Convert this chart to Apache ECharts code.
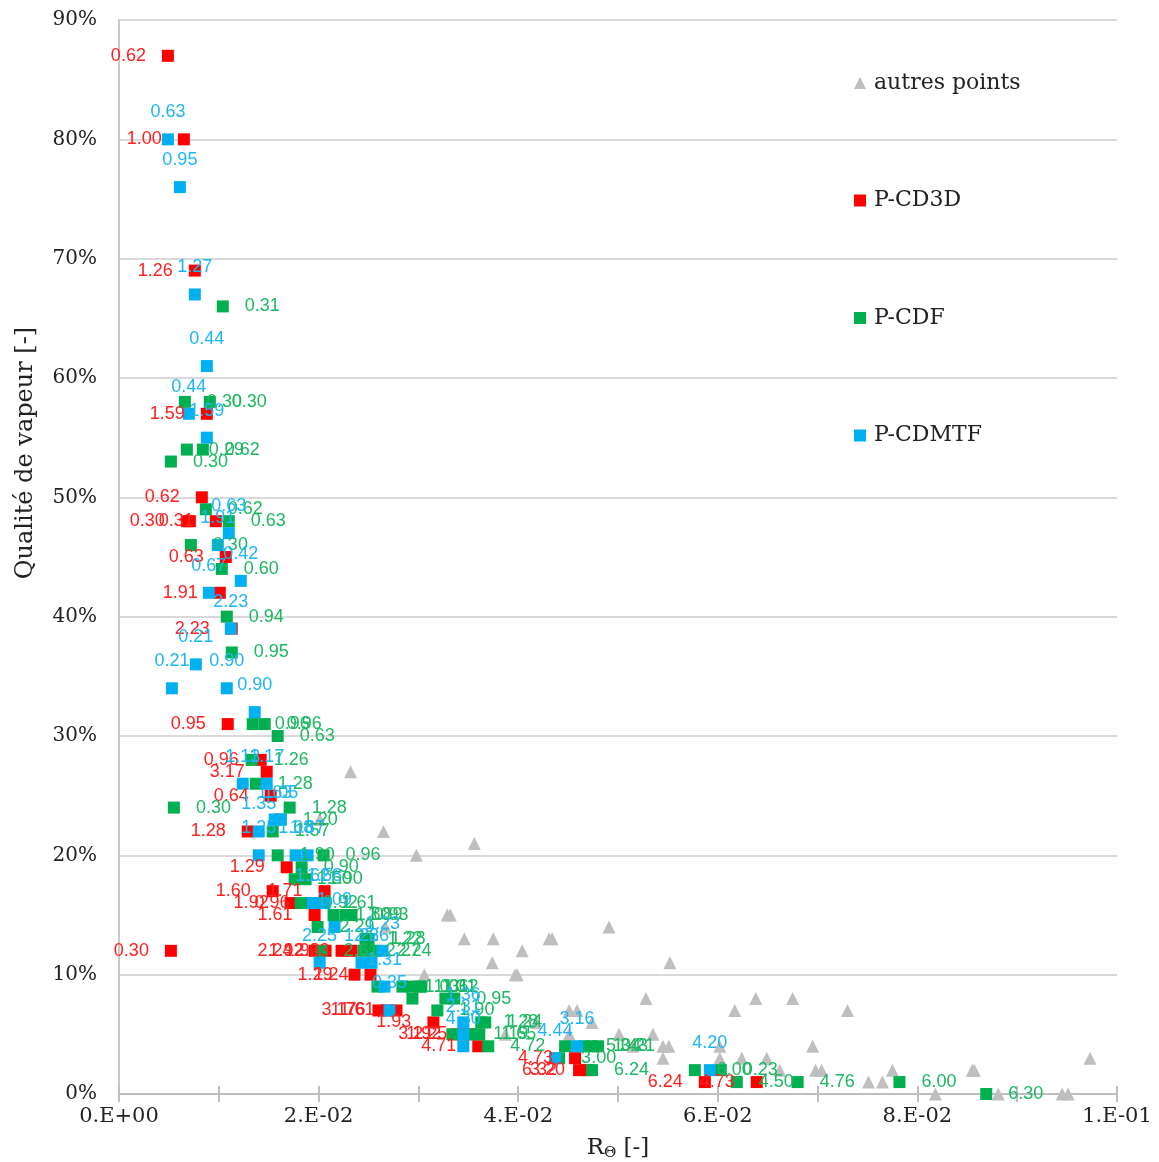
<!DOCTYPE html>
<html>
<head>
<meta charset="utf-8">
<style>html,body{margin:0;padding:0;background:#fff}#c{width:1159px;height:1162px}</style>
<script src="https://cdn.jsdelivr.net/npm/echarts@6/dist/echarts.min.js"></script>
</head>
<body>
<div id="c"></div>
<script>
const otherX=[.0232,.0201,.0265,.0298,.0356,.0267,.0329,.0332,.0346,.0375,.0431,.0434,.0374,.0404,.0397,.0399,.0306,.0491,.0552,.0528,.0617,.0638,.0675,.0730,.0451,.0459,.0474,.0451,.0501,.0535,.0545,.0551,.0545,.0515,.0418,.0387,.0695,.0602,.0602,.0624,.0649,.0662,.0698,.0704,.0751,.0765,.0775,.0855,.0857,.0818,.0881,.0945,.0951,.0973];
const otherY=[27,23,22,20,21,14,15,15,13,13,13,13,11,12,10,10,10,14,11,8,7,8,8,7,7,7,6,5,5,5,4,4,3,4,6,5,4,4,3,3,3,2,2,2,1,1,2,2,2,0,0,0,0,3];

const cd3dX=[.0049,.0065,.0076,.0088,.0083,.0068,.0071,.0097,.0107,.0101,.0113,.0109,.0142,.0148,.0152,.0129,.0168,.0154,.0206,.0172,.0193,.0196,.0052,.0196,.0207,.0223,.0233,.0236,.0252,.0260,.0269,.0278,.0315,.0337,.0345,.0351,.0360,.0457,.0461,.0469,.0587,.0639];
const cd3dY=[87,80,69,57,50,48,48,48,45,42,39,31,28,27,25,22,19,17,17,16,16,15,12,12,12,12,12,10,10,7,7,7,6,5,5,5,4,3,2,2,1,1];
const cd3dLabels=["0.62","1.00","1.26","1.59","0.62","0.30","","0.31","0.63","1.91","2.23","0.95","0.96","3.17","0.64","1.28","1.29","1.60","1.71","1.92","0.96","1.61","0.30","2.24","1.92","1.96","2.23","1.29","1.24","3.17","1.76","1.61","1.93","3.21","1.92","1.25","4.71","4.73","6.32","3.20","6.24","4.73"];

const cdfX=[.0104,.0066,.0091,.0068,.0084,.0052,.0087,.0110,.0072,.0103,.0108,.0113,.0134,.0146,.0159,.0133,.0137,.0171,.0055,.0162,.0154,.0159,.0205,.0183,.0176,.0187,.0182,.0201,.0215,.0227,.0233,.0199,.0247,.0250,.0203,.0245,.0256,.0259,.0284,.0293,.0301,.0303,.0294,.0327,.0336,.0319,.0363,.0367,.0334,.0353,.0361,.0370,.0447,.0466,.0473,.0480,.0441,.0474,.0577,.0603,.0619,.0680,.0782,.0869];
const cdfY=[66,58,58,54,54,53,49,48,46,44,40,37,31,31,30,28,26,24,24,23,22,20,20,19,18,18,16,16,15,15,15,14,13,13,12,12,12,9,9,9,9,9,8,8,8,7,6,6,5,5,5,4,4,4,4,4,3,2,2,2,1,1,1,0];
const cdfLabels=["0.31","0.30","0.30","0.29","0.62","0.30","0.62","0.63","0.30","0.60","0.94","0.95","0.96","0.96","0.63","1.26","1.28","1.28","0.30","1.20","1.57","1.90","0.96","0.90","1.50","1.90","0.92","1.61","1.80","1.89","0.93","2.29","1.22","1.28","2.61","2.27","2.24","","1.03","1.01","1.31","1.62","","","0.95","1.90","1.28","1.24","","1.19","1.65","4.72","","5.04","1.43","3.21","3.00","6.24","6.00","0.23","4.50","4.76","6.00","6.30"];

const cdmtfX=[.0049,.0061,.0076,.0088,.0070,.0088,.0110,.0099,.0122,.0090,.0112,.0077,.0053,.0108,.0136,.0124,.0148,.0156,.0162,.0140,.0140,.0177,.0189,.0194,.0206,.0216,.0264,.0201,.0243,.0253,.0266,.0271,.0345,.0345,.0345,.0437,.0459,.0592];
const cdmtfY=[80,76,67,61,57,55,47,46,43,42,39,36,34,34,32,26,26,23,23,22,20,20,20,16,16,14,12,11,11,11,9,7,6,5,4,3,4,2];
const cdmtfLabels=["0.63","0.95","1.27","0.44","0.44","1.59","0.63","1.91","0.42","0.67","2.23","0.21","0.21","0.90","0.90","1.13","1.17","1.63","1.05","1.35","1.25","1.08","1.87","1.62","1.58","1.09","1.23","2.25","1.26","2.26","1.31","0.35","1.36","2.31","4.30","4.44","3.16","4.20"];

const yTickLabels=["0%","10%","20%","30%","40%","50%","60%","70%","80%","90%"];
const xTickLabels=["0.E+00","","2.E-02","","4.E-02","","6.E-02","","8.E-02","","1.E-01"];
const names=["autres points","P-CD3D","P-CDF","P-CDMTF"];
const markerColors=["#bfbfbf","#ff0000","#00b050","#00b0f0"];
const labelColors=["#bfbfbf","#ff2020","#1db862","#1db6f2"];

const serif='"DejaVu Serif"';
function series(i,xs,ys,labels,pos,dist,symbol,size){
  return {
    name:names[i],type:'scatter',symbol:symbol,symbolSize:size,
    xAxisIndex:0,yAxisIndex:0,
    itemStyle:{color:markerColors[i],opacity:1,borderRadius:1},
    label:{show:!!labels,position:pos,distance:dist,color:labelColors[i],
      fontFamily:'"Liberation Sans"',fontSize:18,
      formatter:p=>p.data[2]||''},
    labelLayout:{hideOverlap:false},
    emphasis:{disabled:true},
    data:xs.map((x,k)=>[x,ys[k],labels?labels[k]:''])
  };
}
const chart=echarts.init(document.getElementById('c'),null,{renderer:'canvas'});
chart.setOption({
  animation:false,backgroundColor:'#fff',
  grid:{left:119,right:42,top:20,bottom:68,outerBoundsMode:'none'},
  legend:{show:true,orient:'vertical',left:849,top:66,itemWidth:12,itemHeight:12,itemGap:93.5,
    data:[{name:names[0],icon:'triangle'},{name:names[1],icon:'rect'},{name:names[2],icon:'rect'},{name:names[3],icon:'rect'}],
    textStyle:{fontFamily:serif,fontSize:22,color:'#222',lineHeight:24,padding:[0,0,0,3]}},
  xAxis:[{type:'value',min:0,max:0.1,interval:0.01,position:'bottom',
      name:'{r|R}{s|Θ}{r| [-]}',nameLocation:'middle',nameGap:42,
      nameTextStyle:{rich:{r:{fontFamily:serif,fontSize:23,color:'#222'},s:{fontFamily:serif,fontSize:15,color:'#222',padding:[10,0,0,0]}}},
      splitLine:{show:false},
      axisLine:{show:true,onZero:false,lineStyle:{color:'#bfbfbf',width:2}},
      axisTick:{show:true,length:8,lineStyle:{color:'#bfbfbf',width:2}},
      axisLabel:{fontFamily:serif,fontSize:21,color:'#222',margin:12,hideOverlap:false,showMinLabel:true,showMaxLabel:true,
        formatter:(v)=>xTickLabels[Math.round(v*100)]}},
    {type:'value',min:0,max:0.1,interval:0.01,position:'bottom',
      splitLine:{show:false},axisLine:{show:false},axisLabel:{show:false},
      axisTick:{show:true,inside:true,length:8,lineStyle:{color:'#bfbfbf',width:2}}}],
  yAxis:{type:'value',min:0,max:90,interval:10,
    name:'Qualité de vapeur [-]',nameLocation:'middle',nameGap:81,
    nameTextStyle:{fontFamily:serif,fontSize:24,color:'#222',padding:[0,0,0,208]},
    axisLine:{show:true,lineStyle:{color:'#c8c8c8',width:2}},
    axisTick:{show:false},
    splitLine:{show:true,lineStyle:{color:'#d9d9d9',width:2}},
    axisLabel:{fontFamily:serif,fontSize:20,color:'#222',margin:22,padding:[4,0,0,0],
      formatter:(v)=>yTickLabels[Math.round(v/10)]}},
  series:[
    series(0,otherX,otherY,null,'top',0,'triangle',13),
    series(1,cd3dX,cd3dY,cd3dLabels,'left',16,'rect',12),
    series(2,cdfX,cdfY,cdfLabels,'right',16,'rect',12),
    series(3,cdmtfX,cdmtfY,cdmtfLabels,'top',12,'rect',12)
  ]
});
</script>
</body>
</html>
